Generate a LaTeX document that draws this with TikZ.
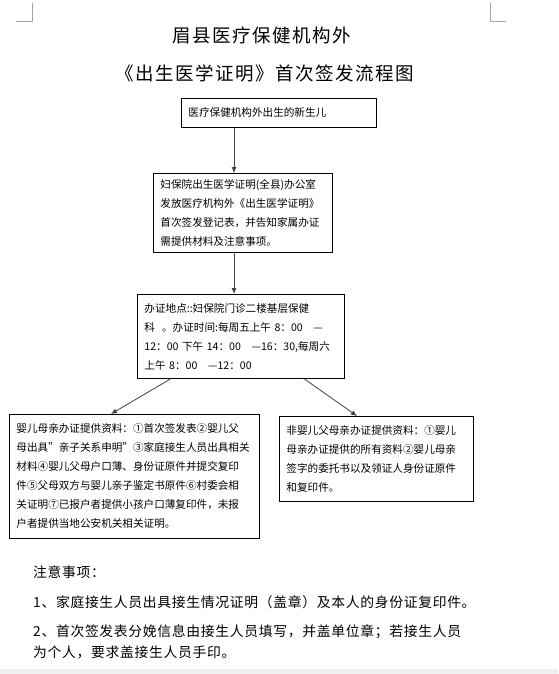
\documentclass[tikz,border=0pt]{standalone}
\usepackage{fontspec}
\setmainfont{Noto Sans CJK SC}
\newfontfamily\titlefont[LetterSpace=8]{Noto Sans CJK SC}
\newfontfamily\notefont[LetterSpace=5]{Noto Sans CJK SC}
\usetikzlibrary{arrows.meta}
\begin{document}
\begin{tikzpicture}[x=1pt,y=-1pt,
  box/.style={draw=black,line width=0.9pt,inner xsep=7pt,inner ysep=0pt,align=left,
    font=\fontsize{10.6}{19}\selectfont,anchor=north west},
  conn/.style={draw=black!75,line width=0.8pt,-{Latex[length=6pt,width=5pt]}},
  corner/.style={draw=black!35,line width=0.6pt},
  ttl/.style={font=\titlefont\fontsize{18.5}{22}\selectfont,inner sep=0pt},
  note/.style={font=\notefont\fontsize{13.8}{20}\selectfont,inner sep=0pt,anchor=west}]
\useasboundingbox (0,0) rectangle (558,674);
\fill[white] (0,0) rectangle (558,674);
\fill[black!6] (0,669) rectangle (558,674);
% corner marks
\draw[corner] (32,3) -- (32,21) -- (16,21);
\draw[corner] (490,3) -- (490,21) -- (506,21);
% title
\node[ttl] (t1) at (262,35) {眉县医疗保健机构外};
\node[ttl] (t2) at (265,73) {《出生医学证明》首次签发流程图};
% boxes
\node[box,text width=181pt,minimum height=29pt] (b1) at (181,98) {医疗保健机构外出生的新生儿};
\node[box,text width=165pt,minimum height=79pt] (b2) at (153,173)
  {妇保院出生医学证明(全县)办公室\\发放医疗机构外《出生医学证明》\\首次签发登记表，并告知家属办证\\需提供材料及注意事项。};
\node[box,text width=193pt,minimum height=84pt] (b3) at (137,294)
  {办证地点::妇保院门诊二楼基层保健\\科\ \ 。办证时间:每周五上午 8：00\ \ \ —\\12：00 下午 14：00\ \ \ —16：30,每周六\\上午 8：00\ \ \ —12：00};
\node[box,text width=236pt,minimum height=124pt] (b4) at (9,414)
  {婴儿母亲办证提供资料：①首次签发表②婴儿父\\母出具"亲子关系申明"③家庭接生人员出具相关\\材料④婴儿父母户口薄、身份证原件并提交复印\\件⑤父母双方与婴儿亲子鉴定书原件⑥村委会相\\关证明⑦已报户者提供小孩户口薄复印件，未报\\户者提供当地公安机关相关证明。};
\node[box,text width=180pt,minimum height=85pt] (b5) at (279,416)
  {非婴儿父母亲办证提供资料：①婴儿\\母亲办证提供的所有资料②婴儿母亲\\签字的委托书以及领证人身份证原件\\和复印件。};
% connectors
\draw[conn] (b1.south -| 234,0) -- (b2.north -| 234,0);
\draw[conn] (b2.south -| 234,0) -- (b3.north -| 234,0);
\coordinate (l0) at (172,378);
\coordinate (r0) at (303,378);
\draw[conn] (l0) -- (b4.north -| 111,0);
\draw[conn] (r0) -- (b5.north -| 357,0);
% notes
\node[note] (n0) at (33,572) {注意事项：};
\node[note] (n1) at (33,602) {1、家庭接生人员出具接生情况证明（盖章）及本人的身份证复印件。};
\node[note] (n2) at (33,632) {2、首次签发表分娩信息由接生人员填写，并盖单位章；若接生人员};
\node[note] (n3) at (33,652) {为个人，要求盖接生人员手印。};
\end{tikzpicture}
\end{document}
